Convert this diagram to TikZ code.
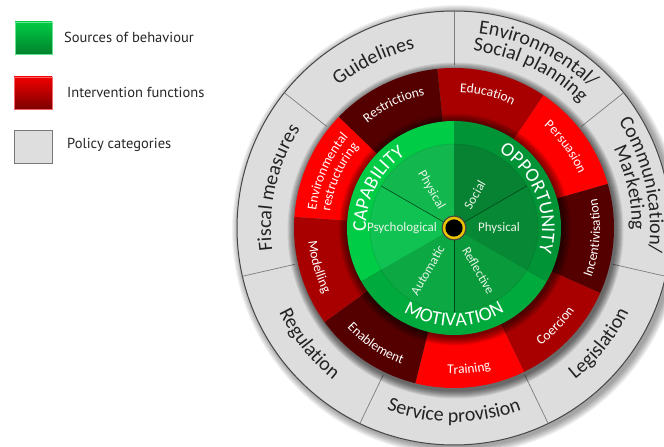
\documentclass[tikz,border=0pt]{standalone}
\usepackage{fontspec}
\setmainfont{Carlito}
\newfontfamily\legfont{PT Sans}
\usetikzlibrary{decorations.text}

\definecolor{ringgray}{RGB}{221,221,221}
\definecolor{ringborder}{RGB}{70,70,70}
\definecolor{divgray}{RGB}{125,125,125}
\definecolor{policytext}{RGB}{35,35,35}
\definecolor{rbright}{RGB}{255,0,0}
\definecolor{rmid}{RGB}{168,0,0}
\definecolor{rdark}{RGB}{85,0,0}
\definecolor{gcap}{RGB}{0,204,70}
\definecolor{gopp}{RGB}{0,148,54}
\definecolor{gmot}{RGB}{0,170,60}
\definecolor{iphyscap}{RGB}{18,184,78}
\definecolor{ipsych}{RGB}{16,194,82}
\definecolor{iauto}{RGB}{12,168,68}
\definecolor{irefl}{RGB}{9,154,60}
\definecolor{iphysopp}{RGB}{7,136,52}
\definecolor{isocial}{RGB}{6,130,50}
\definecolor{gline}{RGB}{0,70,25}
\definecolor{innertext}{RGB}{232,244,232}
\definecolor{dotyellow}{RGB}{232,196,0}
\definecolor{leggtop}{RGB}{0,204,68}
\definecolor{leggbot}{RGB}{0,130,44}
\definecolor{legrtop}{RGB}{240,0,0}
\definecolor{legrbot}{RGB}{125,0,0}
\definecolor{leggray}{RGB}{222,222,222}
\definecolor{leggrayb}{RGB}{120,120,120}

\tikzset{
  legtext/.style={anchor=west, inner sep=0pt, font=\legfont\fontsize{14.5}{16}\selectfont, text=black!85},
  inlbl/.style={inner sep=0pt, font=\fontsize{13}{13}\selectfont, text=innertext},
}

% cw text: centre angle, baseline radius, size, colour, text
\newcommand\cwtext[5]{%
  \path[decorate,decoration={text along path,text align=center,text color=#4,
     text={|\fontsize{#3}{#3}\selectfont|#5}}]
     (#1+60:#2) arc[start angle=#1+60,end angle=#1-60,radius=#2];}
% ccw text
\newcommand\ccwtext[5]{%
  \path[decorate,decoration={text along path,text align=center,text color=#4,
     text={|\fontsize{#3}{#3}\selectfont|#5}}]
     (#1-60:#2) arc[start angle=#1-60,end angle=#1+60,radius=#2];}
% filled sector from centre
\newcommand\wedgefill[4]{%
  \fill[#1] (0,0) -- (#2:#4) arc[start angle=#2,end angle=#3,radius=#4] -- cycle;}

\begin{document}
\begin{tikzpicture}[x=1pt,y=1pt]
\useasboundingbox (0,0) rectangle (664,447);
\fill[white] (0,0) rectangle (664,447);

% ---------- legend ----------
\shade[top color=leggtop, bottom color=leggbot] (15,425) rectangle (52,393);
\draw[leggtop!60!white, line width=0.5pt] (15,425) rectangle (52,393);
\node[legtext] (lsrc) at (64,410) {Sources of behaviour};
\shade[top color=legrtop, bottom color=legrbot] (14,370) rectangle (52,338);
\draw[legrtop!60!white, line width=0.5pt] (14,370) rectangle (52,338);
\node[legtext] (lint) at (67,355) {Intervention functions};
\fill[leggray] (14,317) rectangle (52,284);
\draw[leggrayb, line width=0.8pt] (14,317) rectangle (52,284);
\node[legtext] (lpol) at (67,302) {Policy categories};

% ---------- wheel ----------
\begin{scope}[shift={(454,219)}]
  % outer drop shadow
  \foreach \r in {218,...,225} \fill[black,opacity=0.05] (3,-2) circle[radius=\r pt];
  % policy ring
  \fill[ringgray] (0,0) circle[radius=217pt];
  \draw[ringborder, line width=1pt] (0,0) circle[radius=217pt];
  \foreach \a in {90,141.4286,192.8571,244.2857,295.7143,347.1429,38.5714}
    \draw[divgray, line width=0.7pt] (\a:163pt) -- (\a:217pt);

  % shadow of red ring
  \foreach \r in {161,...,168} \fill[black,opacity=0.085] (1.5,-2.5) circle[radius=\r pt];

  % intervention functions
  \wedgefill{rmid}{56}{96}{160pt}
  \wedgefill{rbright}{16}{56}{160pt}
  \wedgefill{rdark}{-24}{16}{160pt}
  \wedgefill{rmid}{-64}{-24}{160pt}
  \wedgefill{rbright}{-104}{-64}{160pt}
  \wedgefill{rdark}{-144}{-104}{160pt}
  \wedgefill{rmid}{-184}{-144}{160pt}
  \wedgefill{rbright}{136}{176}{160pt}
  \wedgefill{rdark}{96}{136}{160pt}

  % shadow of green disc
  \foreach \r in {108,...,116} \fill[black,opacity=0.075] (1,-1.5) circle[radius=\r pt];

  % sources of behaviour: outer ring
  \wedgefill{gcap}{90}{210}{107pt}
  \wedgefill{gmot}{210}{330}{107pt}
  \wedgefill{gopp}{330}{450}{107pt}
  % inner disc
  \wedgefill{iphyscap}{90}{150}{84pt}
  \wedgefill{ipsych}{150}{210}{84pt}
  \wedgefill{iauto}{210}{270}{84pt}
  \wedgefill{irefl}{270}{330}{84pt}
  \wedgefill{iphysopp}{330}{390}{84pt}
  \wedgefill{isocial}{30}{90}{84pt}
  \draw[black, opacity=0.07, line width=1pt] (0,0) circle[radius=84pt];
  \foreach \a in {30,150,270}
    \draw[gline, line width=0.6pt] (0,0) -- (\a:84pt);

  % centre dot
  \fill[black!75] (0,0) circle[radius=12.5pt];
  \fill[dotyellow] (0,0) circle[radius=11.3pt];
  \fill[black] (0,0) circle[radius=8.6pt];

  % inner labels
  \node[inlbl, rotate=-60] (tphyscap) at (121:44pt) {Physical};
  \node[inlbl, rotate=60]  (tsocial)  at (58:39pt) {Social};
  \node[inlbl]             (tpsych)   at (180:52pt) {Psychological};
  \node[inlbl]             (tphysopp) at (0:45pt) {Physical};
  \node[inlbl, rotate=60]  (tauto)    at (238:50pt) {Automatic};
  \node[inlbl, rotate=-60] (trefl)    at (300:49pt) {Reflective};

  % COM-B labels
  \cwtext{153}{88pt}{19.5}{white}{CAPABILITY}
  \cwtext{22}{88pt}{19.5}{white}{OPPORTUNITY}
  \ccwtext{270}{98pt}{19.5}{white}{MOTIVATION}

  % intervention labels
  \cwtext{76}{136pt}{13.5}{white}{Education}
  \cwtext{36}{136pt}{13.5}{white}{Persuasion}
  \ccwtext{-4}{146pt}{13.5}{white}{Incentivisation}
  \ccwtext{-44}{146pt}{13.5}{white}{Coercion}
  \ccwtext{-84}{146pt}{13.5}{white}{Training}
  \ccwtext{-124}{146pt}{13.5}{white}{Enablement}
  \ccwtext{-164}{146pt}{13.5}{white}{Modelling}
  \cwtext{156}{139pt}{13.5}{white}{Environmental}
  \cwtext{156}{125pt}{13.5}{white}{restructuring}
  \cwtext{116}{136pt}{13.5}{white}{Restrictions}

  % policy labels
  \cwtext{115.71}{183pt}{20}{policytext}{Guidelines}
  \cwtext{64.29}{196pt}{20}{policytext}{Environmental/}
  \cwtext{64.29}{178pt}{20}{policytext}{Social planning}
  \cwtext{12.86}{196pt}{20}{policytext}{Communication/}
  \cwtext{12.86}{178pt}{20}{policytext}{Marketing}
  \ccwtext{-38.57}{194pt}{20}{policytext}{Legislation}
  \ccwtext{-90}{194pt}{20}{policytext}{Service provision}
  \ccwtext{-141.43}{194pt}{20}{policytext}{Regulation}
  \cwtext{167.14}{183pt}{20}{policytext}{Fiscal measures}
\end{scope}
\end{tikzpicture}
\end{document}
